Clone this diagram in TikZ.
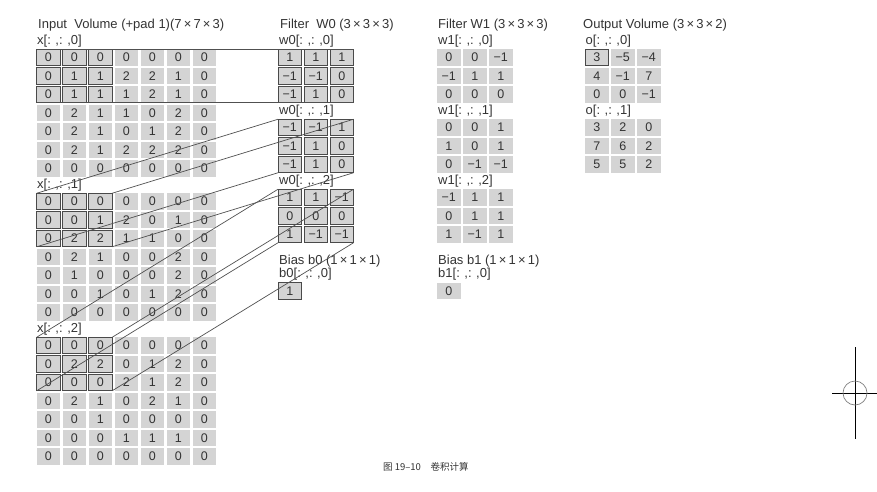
\documentclass[tikz,border=0pt]{standalone}
\usepackage{fontspec}
\setmainfont{Liberation Sans}
\newfontfamily\cjk{Noto Sans CJK SC}
\definecolor{cellgray}{HTML}{D4D4D4}
\definecolor{txt}{HTML}{333333}
\definecolor{bord}{HTML}{4A4A4A}
\definecolor{conncol}{HTML}{505050}
\newcommand{\lsp}{\hspace{0.35em}}
\begin{document}
\begin{tikzpicture}[x=1pt,y=-1pt,
  cell/.style={rectangle,minimum width=23.5pt,minimum height=16.5pt,inner sep=0pt,outer sep=0pt,
    fill=cellgray,text=txt,font=\fontsize{12.5}{12.5}\selectfont},
  hcell/.style={cell,draw=bord,line width=0.8pt},
  lbl/.style={anchor=base west,inner sep=0pt,text=txt,font=\fontsize{13}{14}\selectfont},
  conn/.style={draw=conncol,line width=0.7pt}]
\useasboundingbox (0,0) rectangle (877,491);

% ---------- titles ----------
\node[lbl] (tin) at (38,28.5) {Input\ \ Volume (+pad 1)(7\,×\,7\,×\,3)};
\node[lbl] (tw0) at (280,28.5) {Filter\ \ W0 (3\,×\,3\,×\,3)};
\node[lbl] (tw1) at (438,28.5) {Filter W1 (3\,×\,3\,×\,3)};
\node[lbl] (tout) at (583,28.5) {Output Volume (3\,×\,3\,×\,2)};

% ---------- input volume ----------
\foreach \blk/\rows [count=\b from 0] in {
  0/{{0,0,0,0,0,0,0},{0,1,1,2,2,1,0},{0,1,1,1,2,1,0},{0,2,1,1,0,2,0},{0,2,1,0,1,2,0},{0,2,1,2,2,2,0},{0,0,0,0,0,0,0}},
  1/{{0,0,0,0,0,0,0},{0,0,1,2,0,1,0},{0,2,2,1,1,0,0},{0,2,1,0,0,2,0},{0,1,0,0,0,2,0},{0,0,1,0,1,2,0},{0,0,0,0,0,0,0}},
  2/{{0,0,0,0,0,0,0},{0,2,2,0,1,2,0},{0,0,0,2,1,2,0},{0,2,1,0,2,1,0},{0,0,1,0,0,0,0},{0,0,0,1,1,1,0},{0,0,0,0,0,0,0}}}{
  \pgfmathsetmacro\ybase{57.5+144*\b}
  \node[lbl] (xl-\b) at (37,\ybase-13.5) {x[:\lsp,:\lsp,\blk]};
  \foreach \row [count=\r from 0] in \rows {
    \foreach \v [count=\c from 0] in \row {
      \def\st{cell}
      \ifnum\r<3 \ifnum\c<3 \def\st{hcell}\fi\fi
      \node[\st] (in-\b-\r-\c) at (48.45+26*\c,\ybase+18.5*\r) {\v};
    }
  }
}

% ---------- filter W0 ----------
\foreach \blk/\rows [count=\b from 0] in {
  0/{{1,1,1},{−1,−1,0},{−1,1,0}},
  1/{{−1,−1,1},{−1,1,0},{−1,1,0}},
  2/{{1,1,−1},{0,0,0},{1,−1,−1}}}{
  \pgfmathsetmacro\ybase{57.5+70*\b}
  \node[lbl] (w0l-\b) at (279,\ybase-13.5) {w0[:\lsp,:\lsp,\blk]};
  \foreach \row [count=\r from 0] in \rows {
    \foreach \v [count=\c from 0] in \row {
      \node[hcell] (w0-\b-\r-\c) at (289.75+26*\c,\ybase+18.5*\r) {\v};
    }
  }
}
\node[lbl] (tb0) at (279,264.5) {Bias b0 (1\,×\,1\,×\,1)};
\node[lbl] (b0l) at (279,277.5) {b0[:\lsp,:\lsp,0]};
\node[hcell] (b0) at (289.75,291) {1};

% ---------- filter W1 ----------
\foreach \blk/\rows [count=\b from 0] in {
  0/{{0,0,−1},{−1,1,1},{0,0,0}},
  1/{{0,0,1},{1,0,1},{0,−1,−1}},
  2/{{−1,1,1},{0,1,1},{1,−1,1}}}{
  \pgfmathsetmacro\ybase{57.5+70*\b}
  \node[lbl] (w1l-\b) at (438,\ybase-13.5) {w1[:\lsp,:\lsp,\blk]};
  \foreach \row [count=\r from 0] in \rows {
    \foreach \v [count=\c from 0] in \row {
      \node[cell] (w1-\b-\r-\c) at (448.75+26*\c,\ybase+18.5*\r) {\v};
    }
  }
}
\node[lbl] (tb1) at (438,264.5) {Bias b1 (1\,×\,1\,×\,1)};
\node[lbl] (b1l) at (438,277.5) {b1[:\lsp,:\lsp,0]};
\node[cell] (b1) at (448.75,291) {0};

% ---------- output ----------
\foreach \blk/\rows [count=\b from 0] in {
  0/{{3,−5,−4},{4,−1,7},{0,0,−1}},
  1/{{3,2,0},{7,6,2},{5,5,2}}}{
  \pgfmathsetmacro\ybase{57.5+70*\b}
  \node[lbl] (ol-\b) at (585.5,\ybase-13.5) {o[:\lsp,:\lsp,\blk]};
  \foreach \row [count=\r from 0] in \rows {
    \foreach \v [count=\c from 0] in \row {
      \def\st{cell}
      \ifnum\b=0 \ifnum\r=0 \ifnum\c=0 \def\st{hcell}\fi\fi\fi
      \node[\st] (o-\b-\r-\c) at (596.75+26*\c,\ybase+18.5*\r) {\v};
    }
  }
}

% ---------- connectors: input window -> filter slice ----------
\foreach \b in {0,1,2}{
  \draw[conn] (in-\b-0-0.north west) -- (w0-\b-0-0.north west);
  \draw[conn] (in-\b-0-2.north east) -- (w0-\b-0-2.north east);
  \draw[conn] (in-\b-2-0.south west) -- (w0-\b-2-0.south west);
  \draw[conn] (in-\b-2-2.south east) -- (w0-\b-2-2.south east);
}

% ---------- caption ----------
\node[anchor=base west,inner sep=0pt,text=txt,font=\cjk\fontsize{9.5}{10}\selectfont] (cap) at (383,470) {图 19–10\hspace{1em}卷积计算};

% ---------- registration mark ----------
\draw[black,line width=0.8pt] (855,347) -- (855,439);
\draw[black,line width=0.8pt] (832,393) -- (877,393);
\draw[gray,line width=0.7pt] (855,393) circle[radius=12];
\end{tikzpicture}
\end{document}
